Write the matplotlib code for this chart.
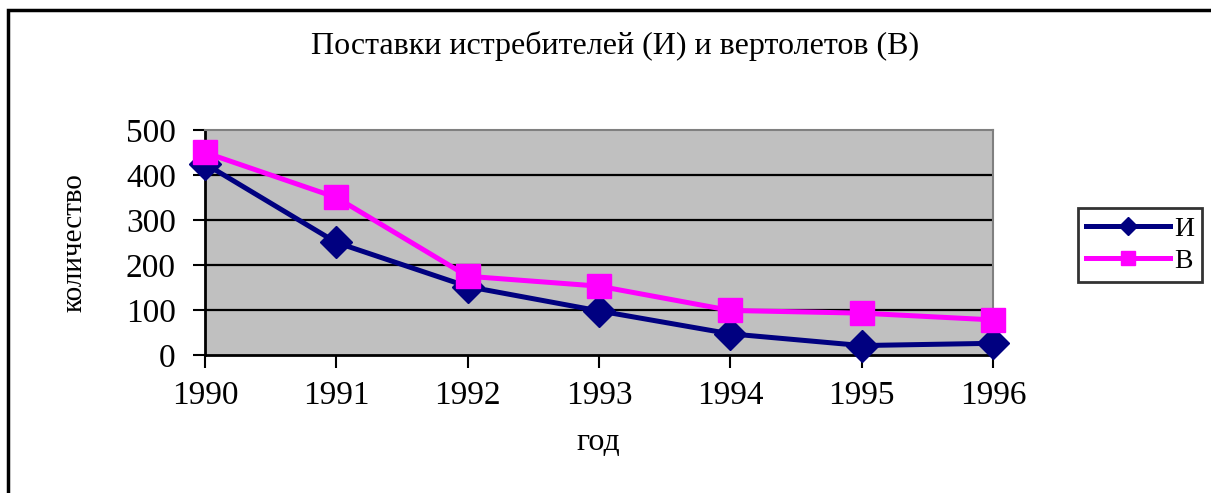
import matplotlib
matplotlib.use("Agg")
import matplotlib.pyplot as plt
from matplotlib.patches import Rectangle

years = ["1990", "1991", "1992", "1993", "1994", "1995", "1996"]
fighters = [425, 250, 152, 98, 47, 21, 26]      # И
helicopters = [450, 350, 175, 153, 99, 93, 78]   # В
yticks = [0, 100, 200, 300, 400, 500]

title = "Поставки истребителей (И) и вертолетов (В)"
xlabel = "год"
ylabel = "количество"

plt.rcParams['font.family'] = ['Liberation Serif', 'DejaVu Serif']

W, H = 1211, 493
fig = plt.figure(figsize=(W / 100, H / 100), dpi=100)

# outer chart frame (cut off at right and bottom)
fig.patches.append(Rectangle((8 / W, -0.05), 1.1, 1 - 10 / H + 0.05,
                             transform=fig.transFigure, fill=False,
                             edgecolor='black', linewidth=2.5))

left, right, top, bottom = 205, 993, 130, 355
ax = fig.add_axes([left / W, 1 - bottom / H, (right - left) / W, (bottom - top) / H])
ax.set_facecolor('#C0C0C0')

x = list(range(len(years)))
ax.plot(x, fighters, color='#000080', lw=3.6, marker='D', ms=16,
        label='И', clip_on=False, zorder=3)
ax.plot(x, helicopters, color='#FF00FF', lw=3.6, marker='s', ms=17,
        label='В', clip_on=False, zorder=4)

ax.set_xlim(0, len(years) - 1)
ax.set_ylim(0, 500)
ax.set_xticks(x)
ax.set_xticklabels(years)
ax.set_yticks(yticks)
ax.set_yticklabels([str(v) for v in yticks])
ax.tick_params(axis='both', direction='out', length=9, width=1.5,
               labelsize=24, colors='black')
ax.tick_params(axis='x', pad=9)
ax.tick_params(axis='y', pad=12)

for v in yticks[1:-1]:
    ax.axhline(v, color='black', lw=1.6, zorder=1)

ax.spines['left'].set_color('black')
ax.spines['left'].set_linewidth(2)
ax.spines['bottom'].set_color('black')
ax.spines['bottom'].set_linewidth(2)
ax.spines['top'].set_color('#808080')
ax.spines['top'].set_linewidth(1.5)
ax.spines['right'].set_color('#808080')
ax.spines['right'].set_linewidth(1.5)

fig.text(615 / W, 1 - 46 / H, title, ha='center', va='center', fontsize=23)
fig.text(598 / W, 1 - 443 / H, xlabel, ha='center', va='center', fontsize=23)
fig.text(75 / W, 1 - 243 / H, ylabel, ha='center', va='center', fontsize=21,
         rotation=90)

leg = fig.legend(loc='center', bbox_to_anchor=(1140 / W, 1 - 245 / H),
                 frameon=True, fancybox=False, edgecolor='black',
                 fontsize=20, handlelength=3.0, handletextpad=0.15,
                 borderpad=0.3, labelspacing=0.25, markerscale=0.6)
leg.get_frame().set_linewidth(2)

fig.savefig("out.png", dpi=100)
